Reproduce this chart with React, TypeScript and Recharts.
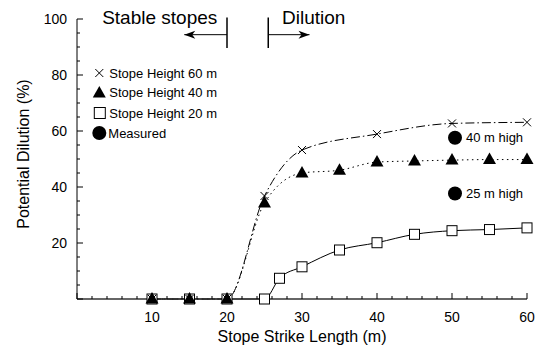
import React from "react";
import {
  ComposedChart,
  Line,
  Scatter,
  XAxis,
  YAxis,
  Legend,
  ReferenceLine,
  ReferenceDot,
} from "recharts";

const FONT = '"Liberation Sans", Arial, sans-serif';

// stope strike length (m) vs potential dilution (%)
const lengths60 = [10, 15, 20, 25, 30, 40, 50, 60];
const dilution60 = [0, 0, 0, 36.8, 53.2, 58.9, 62.7, 63.1];

const lengths40 = [10, 15, 20, 25, 30, 35, 40, 45, 50, 55, 60];
const dilution40 = [0, 0, 0, 34.3, 45, 46, 48.9, 49.3, 49.6, 49.8, 49.8];

const lengths20 = [10, 15, 20, 25, 27, 30, 35, 40, 45, 50, 55, 60];
const dilution20 = [0, 0, 0, 0, 7.4, 11.5, 17.5, 20.1, 23.1, 24.4, 24.8, 25.4];

const measuredLength = [50.4, 50.4];
const measuredDilution = [57.6, 37.7];
const measuredLabels = ["40 m high", "25 m high"];

const xTicks = [0, 2, 4, 6, 8, 10, 12, 14, 16, 18, 20, 22, 24, 26, 28, 30, 32, 34, 36, 38, 40, 42, 44, 46, 48, 50, 52, 54, 56, 58, 60];
const xLabelTicks = [10, 20, 30, 40, 50, 60];
const yTicks = [0, 5, 10, 15, 20, 25, 30, 35, 40, 45, 50, 55, 60, 65, 70, 75, 80, 85, 90, 95, 100];
const yLabelTicks = [20, 40, 60, 80, 100];

const legendNames = ["Stope Height 60 m", "Stope Height 40 m", "Stope Height 20 m", "Measured"];

const toPoints = (xs: number[], ys: number[]) => xs.map((x, i) => ({ x, y: ys[i] }));

const series60 = toPoints(lengths60, dilution60);
const series40 = toPoints(lengths40, dilution40);
const series20 = toPoints(lengths20, dilution20);
const measured = measuredLength.map((x, i) => ({
  x,
  y: measuredDilution[i],
  label: measuredLabels[i],
}));

function crossPath(cx: number, cy: number, s: number) {
  return `M${cx - s},${cy - s}L${cx + s},${cy + s}M${cx - s},${cy + s}L${cx + s},${cy - s}`;
}

function trianglePath(cx: number, cy: number) {
  return `M${cx},${cy - 7}L${cx + 6.5},${cy + 4.5}L${cx - 6.5},${cy + 4.5}Z`;
}

const CrossDot = (p: any) =>
  p.cx == null ? null : (
    <path key={p.index} d={crossPath(p.cx, p.cy, 4)} stroke="#000" strokeWidth={1} fill="none" />
  );

const TriangleDot = (p: any) =>
  p.cx == null ? null : <path key={p.index} d={trianglePath(p.cx, p.cy)} fill="#000" />;

const SquareDot = (p: any) =>
  p.cx == null ? null : (
    <rect key={p.index} x={p.cx - 5} y={p.cy - 5} width={10} height={10} fill="#fff" stroke="#000" strokeWidth={1} />
  );

const MeasuredShape = (p: any) => (
  <g>
    <circle cx={p.cx} cy={p.cy} r={7} fill="#000" />
    <text x={p.cx + 11} y={p.cy + 4.5} fontSize={13} fontFamily={FONT} fill="#000">
      {p.payload.label}
    </text>
  </g>
);

const XTick = (p: any) => {
  const v = p.payload.value;
  const major = v % 10 === 0;
  return (
    <g>
      <line x1={p.x} x2={p.x} y1={p.y} y2={p.y - (major ? 6 : 3)} stroke="#000" />
      {major && xLabelTicks.includes(v) && (
        <text x={p.x} y={p.y + 22.5} textAnchor="middle" fontSize={14} fontFamily={FONT} fill="#000">
          {v}
        </text>
      )}
    </g>
  );
};

const YTick = (p: any) => {
  const v = p.payload.value;
  const major = v % 20 === 0;
  return (
    <g>
      <line x1={p.x} x2={p.x + (major ? 6 : 3)} y1={p.y} y2={p.y} stroke="#000" />
      {yLabelTicks.includes(v) && (
        <text x={p.x - 10} y={p.y + 5} textAnchor="end" fontSize={14} fontFamily={FONT} fill="#000">
          {v}
        </text>
      )}
    </g>
  );
};

const ArrowShape = (p: any) => {
  const { x1, y1, x2, y2 } = p;
  const dir = Math.sign(x2 - x1) || 1;
  return (
    <g>
      <line x1={x1} y1={y1} x2={x2} y2={y2} stroke="#000" strokeWidth={1} />
      <path
        d={`M${x2},${y2}L${x2 - dir * 11},${y2 - 4}L${x2 - dir * 8},${y2}L${x2 - dir * 11},${y2 + 4}Z`}
        fill="#000"
      />
    </g>
  );
};

const LegendBox = () => {
  const rows = [11, 30, 51, 71];
  return (
    <svg width={150} height={85} style={{ display: "block" }}>
      <path d={crossPath(11.3, rows[0], 4)} stroke="#000" fill="none" />
      <path d={trianglePath(11.3, rows[1] + 1)} fill="#000" />
      <rect x={6.3} y={rows[2] - 5.5} width={11} height={11} fill="#fff" stroke="#000" />
      <circle cx={11.3} cy={rows[3]} r={7} fill="#000" />
      {legendNames.map((name, i) => (
        <text
          key={name}
          x={i === 3 ? 20.3 : 21.3}
          y={rows[i] + 4.5}
          fontSize={13}
          fontFamily={FONT}
          fill="#000"
        >
          {name}
        </text>
      ))}
    </svg>
  );
};

export default function App() {
  return (
    <div style={{ width: 543, height: 352, background: "#fff" }}>
      <style>{`body{margin:0}`}</style>
      <ComposedChart
        width={543}
        height={352}
        margin={{ top: 19, right: 16, bottom: 0, left: 0 }}
      >
        <XAxis
          dataKey="x"
          type="number"
          domain={[0, 60]}
          ticks={xTicks}
          interval={0}
          height={53}
          tickSize={0}
          tickMargin={0}
          tickLine={false}
          axisLine={{ stroke: "#333", strokeWidth: 1.5 }}
          tick={(p: any) => <XTick {...p} />}
          label={{
            value: "Stope Strike Length (m)",
            position: "insideBottom",
            offset: 10,
            fontSize: 16,
            fontFamily: FONT,
            fill: "#000",
          }}
        />
        <YAxis
          type="number"
          domain={[0, 100]}
          ticks={yTicks}
          interval={0}
          width={77}
          tickSize={0}
          tickMargin={0}
          tickLine={false}
          axisLine={{ stroke: "#000" }}
          tick={(p: any) => <YTick {...p} />}
          label={{
            value: "Potential Dilution (%)",
            angle: -90,
            position: "insideLeft",
            offset: 23,
            dy: -5,
            fontSize: 16,
            fontFamily: FONT,
            fill: "#000",
            style: { textAnchor: "middle" },
          }}
        />
        <Legend
          layout="vertical"
          align="center"
          verticalAlign="middle"
          wrapperStyle={{ left: 88, top: 62, width: 150 }}
          content={() => <LegendBox />}
        />
        <ReferenceLine
          segment={[{ x: 20, y: 100.5 }, { x: 20, y: 89.6 }]}
          stroke="#000"
          strokeWidth={1.5}
          ifOverflow="visible"
        />
        <ReferenceLine
          segment={[{ x: 25.5, y: 100.5 }, { x: 25.5, y: 89.6 }]}
          stroke="#000"
          strokeWidth={1.5}
          ifOverflow="visible"
        />
        <ReferenceLine
          segment={[{ x: 20, y: 94.4 }, { x: 14.3, y: 94.4 }]}
          ifOverflow="visible"
          shape={(p: any) => <ArrowShape {...p} />}
        />
        <ReferenceLine
          segment={[{ x: 25.5, y: 94.4 }, { x: 31, y: 94.4 }]}
          ifOverflow="visible"
          shape={(p: any) => <ArrowShape {...p} />}
        />
        <ReferenceDot
          x={11.03}
          y={98.2}
          r={0}
          ifOverflow="visible"
          shape={(p: any) => (
            <text x={p.cx} y={p.cy} textAnchor="middle" fontSize={19} fontFamily={FONT} fill="#000">
              Stable stopes
            </text>
          )}
        />
        <ReferenceDot
          x={27.33}
          y={98.2}
          r={0}
          ifOverflow="visible"
          shape={(p: any) => (
            <text x={p.cx} y={p.cy} textAnchor="start" fontSize={19} fontFamily={FONT} fill="#000">
              Dilution
            </text>
          )}
        />
        <Line
          data={series20}
          dataKey="y"
          type="monotone"
          stroke="#000"
          strokeWidth={1}
          dot={(p: any) => <SquareDot key={p.index} {...p} />}
          activeDot={false}
          isAnimationActive={false}
        />
        <Line
          data={series40}
          dataKey="y"
          type="monotone"
          stroke="#000"
          strokeWidth={1}
          strokeDasharray="1.5 3.5"
          dot={(p: any) => <TriangleDot key={p.index} {...p} />}
          activeDot={false}
          isAnimationActive={false}
        />
        <Line
          data={series60}
          dataKey="y"
          type="monotone"
          stroke="#000"
          strokeWidth={1}
          strokeDasharray="9 3 1.5 3"
          dot={(p: any) => <CrossDot key={p.index} {...p} />}
          activeDot={false}
          isAnimationActive={false}
        />
        <Scatter
          data={measured}
          dataKey="y"
          shape={(p: any) => <MeasuredShape {...p} />}
          isAnimationActive={false}
        />
      </ComposedChart>
    </div>
  );
}
